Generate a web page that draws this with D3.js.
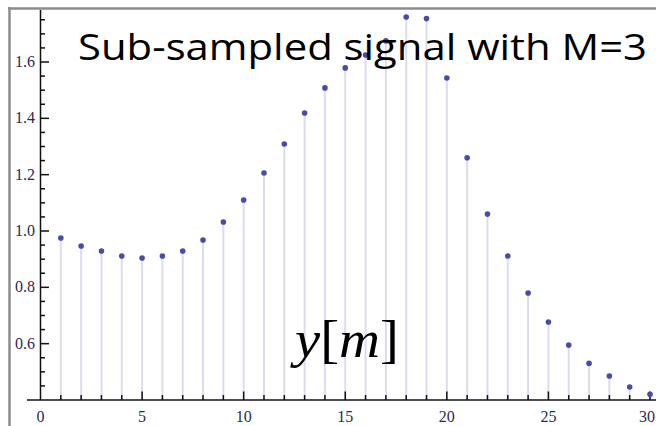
<!DOCTYPE html>
<html><head><meta charset="utf-8">
<script src="https://cdn.jsdelivr.net/npm/d3@7"></script>
<style>html,body{margin:0;padding:0;background:#fff;}svg{display:block;}
.serif{font-family:"Liberation Serif","Times New Roman",Times,serif;}</style>
</head><body>
<svg id="c" width="656" height="426"></svg>
<script>
const samples = [1,2,3,4,5,6,7,8,9,10,11,12,13,14,15,16,17,18,19,20,21,22,23,24,25,26,27,28,29,30];
const values = [0.975,0.947,0.929,0.911,0.904,0.911,0.929,0.968,1.032,1.11,1.206,1.309,1.419,1.508,1.579,1.625,1.675,1.76,1.754,1.543,1.26,1.06,0.911,0.78,0.677,0.595,0.53,0.485,0.446,0.42];
const xTicks = [0,5,10,15,20,25,30];
const yTicks = [0.6,0.8,1.0,1.2,1.4,1.6];
const titleText = "Sub-sampled signal with M=3";

const svg = d3.select("#c");
const x = d3.scaleLinear().domain([0,30]).range([40.5,650]);
const y = d3.scaleLinear().domain([0.4,1.0]).range([400,231]);

svg.append("line").attr("x1",9.5).attr("x2",9.5).attr("y1",7).attr("y2",426).attr("stroke","#8c8c8c").attr("stroke-width",2.5);
svg.append("line").attr("x1",8).attr("x2",656).attr("y1",8.5).attr("y2",8.5).attr("stroke","#8c8c8c").attr("stroke-width",2.5);

svg.append("g").selectAll("line").data(samples).join("line")
  .attr("x1",d=>x(d)).attr("x2",d=>x(d))
  .attr("y1",y(0.4)).attr("y2",(d,i)=>y(values[i]))
  .attr("stroke","#dcdcf0").attr("stroke-width",2);

const axG = svg.append("g").attr("stroke","#111").attr("stroke-width",1.5);
axG.append("line").attr("x1",27).attr("x2",656).attr("y1",400).attr("y2",400);
axG.append("line").attr("x1",x(0)).attr("x2",x(0)).attr("y1",400).attr("y2",10);
const xMinor = d3.range(1,31);
axG.selectAll(".xt").data(xMinor).join("line")
  .attr("x1",d=>x(d)).attr("x2",d=>x(d))
  .attr("y1",400).attr("y2",d=>d%5===0?391.5:395);
const yMinor = d3.range(0,28).map(i=>+(0.45+i*0.05).toFixed(2)).filter(v=>v<=1.76);
axG.selectAll(".yt").data(yMinor).join("line")
  .attr("y1",d=>y(d)).attr("y2",d=>y(d))
  .attr("x1",x(0)).attr("x2",d=>Math.abs(d*10-Math.round(d*10))<1e-6 && Math.round(d*10)%2===0?49:45);

const xMax = d3.max(xTicks);
svg.append("g").selectAll("text").data(xTicks).join("text")
  .attr("class","serif")
  .attr("x",d=>d===xMax?655:x(d)).attr("y",422)
  .attr("text-anchor",d=>d===xMax?"end":"middle")
  .style("font-size","16px").attr("fill","#2a2a50")
  .text(d=>d);
svg.append("g").selectAll("text").data(yTicks).join("text")
  .attr("class","serif")
  .attr("x",35).attr("y",d=>y(d)+5).attr("text-anchor","end")
  .style("font-size","16px").attr("fill","#2a2a50")
  .text(d=>d.toFixed(1));

svg.append("g").selectAll("circle").data(samples).join("circle")
  .attr("cx",d=>x(d)).attr("cy",(d,i)=>y(values[i])).attr("r",2.8)
  .attr("fill","#4a4aa8");

svg.append("text").attr("x",78).attr("y",60)
  .attr("font-family","Open Sans").attr("font-size",37).attr("fill","#000")
  .attr("textLength",569).attr("lengthAdjust","spacingAndGlyphs")
  .text(titleText);

const lab = svg.append("text").attr("class","serif").attr("x",295).attr("y",357)
  .style("font-size","52px").attr("fill","#000")
  .attr("textLength",104).attr("lengthAdjust","spacingAndGlyphs");
lab.append("tspan").attr("font-style","italic").text("y");
lab.append("tspan").text("[");
lab.append("tspan").attr("font-style","italic").text("m");
lab.append("tspan").text("]");
</script>
</body></html>
